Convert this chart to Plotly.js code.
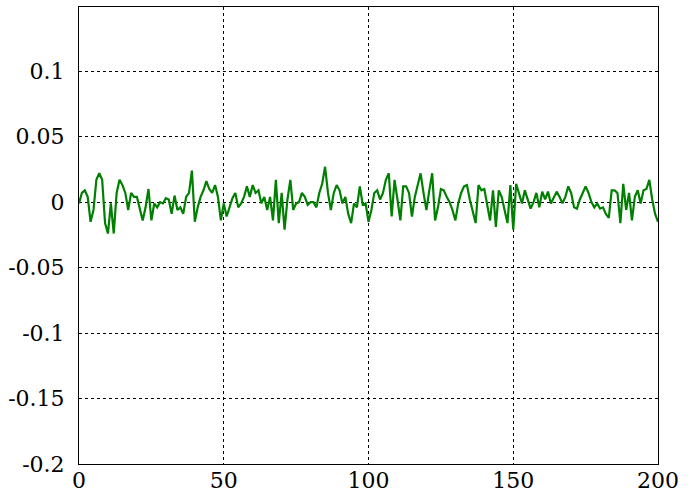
<!DOCTYPE html>
<html>
<head>
<meta charset="utf-8">
<script src="https://cdn.plot.ly/plotly-3.0.1.min.js"></script>
<style>html,body{margin:0;padding:0;background:#fff;}#chart{width:696px;height:499px;}</style>
</head>
<body>
<div id="chart"></div>
<script>
var signalValues = [
  -0.001, 0.007, 0.009, 0.004, -0.015, -0.006, 0.017, 0.022, 0.017, -0.016,
  -0.024, -0.001, -0.024, 0.007, 0.017, 0.013, 0.007, -0.006, 0.007, 0.004,
  0.004, -0.006, -0.014, -0.004, 0.010, -0.014, -0.001, -0.004, 0.000, -0.001,
  0.003, 0.002, -0.009, 0.005, -0.006, -0.004, -0.009, 0.004, 0.007, 0.024,
  -0.015, -0.004, 0.004, 0.009, 0.016, 0.010, 0.007, 0.013, 0.004, -0.014,
  -0.001, -0.011, -0.004, 0.003, 0.007, -0.004, -0.001, 0.004, 0.012, 0.004,
  0.013, 0.007, 0.009, -0.001, 0.004, -0.006, 0.004, -0.014, 0.017, -0.016,
  0.007, -0.021, 0.002, 0.017, -0.006, -0.001, 0.000, 0.007, 0.004, -0.002,
  0.000, 0.000, -0.004, 0.007, 0.014, 0.027, 0.007, -0.006, 0.007, 0.013,
  0.009, -0.001, 0.004, -0.009, -0.016, -0.001, -0.004, 0.012, -0.002, -0.001,
  -0.015, -0.006, 0.007, 0.009, 0.002, 0.007, 0.017, 0.022, -0.011, 0.017,
  0.002, -0.014, 0.012, 0.012, 0.007, -0.011, 0.004, 0.012, 0.022, 0.007,
  -0.006, 0.009, 0.022, -0.014, -0.004, 0.010, 0.009, 0.004, 0.000, -0.006,
  -0.014, -0.001, 0.007, 0.012, 0.013, 0.002, -0.006, -0.016, 0.013, 0.009,
  0.010, -0.001, -0.014, 0.009, -0.019, 0.009, 0.004, -0.006, -0.016, 0.013,
  -0.021, 0.014, 0.007, -0.001, 0.009, 0.002, -0.005, 0.000, 0.007, -0.004,
  0.008, 0.002, 0.008, -0.001, 0.004, 0.008, 0.004, -0.001, 0.004, 0.012,
  0.007, -0.004, -0.005, 0.002, 0.007, 0.012, 0.007, 0.000, -0.004, -0.001,
  -0.005, -0.004, -0.009, -0.012, 0.009, 0.009, 0.007, -0.016, 0.014, -0.006,
  0.007, -0.014, 0.004, 0.009, -0.001, 0.009, 0.010, 0.017, 0.002, -0.009,
  -0.015
];
var sampleIndex = signalValues.map(function (_, i) { return i; });
var xTickVals = [0, 50, 100, 150, 200];
var xTickText = ['0', '50', '100', '150', '200'];
var yTickVals = [-0.2, -0.15, -0.1, -0.05, 0, 0.05, 0.1];
var yTickText = ['-0.2', '-0.15', '-0.1', '-0.05', '0', '0.05', '0.1'];

var trace = {
  x: sampleIndex,
  y: signalValues,
  type: 'scatter',
  mode: 'lines',
  line: {color: '#008000', width: 2.2},
  hoverinfo: 'skip'
};

var axisFont = {family: 'DejaVu Serif', size: 22, color: '#000'};

var layout = {
  width: 696,
  height: 499,
  margin: {l: 79, r: 38, t: 7, b: 35, pad: 0},
  paper_bgcolor: '#fff',
  plot_bgcolor: '#fff',
  showlegend: false,
  xaxis: {
    range: [0, 200],
    tickvals: xTickVals,
    ticktext: xTickText,
    tickfont: axisFont,
    showline: true, mirror: true, linecolor: '#000', linewidth: 1,
    showgrid: true, gridcolor: '#000', gridwidth: 1, griddash: '3px,3px',
    zeroline: false, ticks: '', ticklabelstandoff: -3
  },
  yaxis: {
    range: [-0.2, 0.149],
    tickvals: yTickVals,
    ticktext: yTickText,
    tickfont: axisFont,
    showline: true, mirror: true, linecolor: '#000', linewidth: 1,
    showgrid: true, gridcolor: '#000', gridwidth: 1, griddash: '3px,3px',
    zeroline: false, ticks: '', ticklabelstandoff: 9
  }
};

Plotly.newPlot('chart', [trace], layout, {staticPlot: true, displayModeBar: false});
</script>
</body>
</html>
